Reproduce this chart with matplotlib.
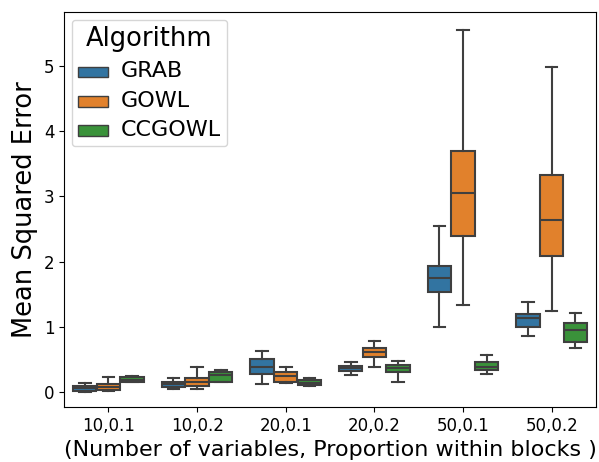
import matplotlib
matplotlib.use("Agg")
import matplotlib.pyplot as plt
from matplotlib.patches import Patch
import numpy as np

groups = ["10,0.1", "10,0.2", "20,0.1", "20,0.2", "50,0.1", "50,0.2"]
algos = ["GRAB", "GOWL", "CCGOWL"]
colors = ["#3274a1", "#e1812c", "#3a923a"]

# per algorithm, per group: whislo, q1, median, q3, whishi
grab_lo  = [0.005, 0.05, 0.12, 0.26, 0.99, 0.86]
grab_q1  = [0.02, 0.08, 0.28, 0.32, 1.53, 1.00]
grab_med = [0.055, 0.12, 0.38, 0.37, 1.75, 1.13]
grab_q3  = [0.09, 0.16, 0.50, 0.40, 1.94, 1.20]
grab_hi  = [0.14, 0.22, 0.63, 0.46, 2.54, 1.38]

gowl_lo  = [0.02, 0.05, 0.14, 0.39, 1.33, 1.24]
gowl_q1  = [0.03, 0.09, 0.15, 0.53, 2.40, 2.09]
gowl_med = [0.07, 0.16, 0.25, 0.61, 3.06, 2.64]
gowl_q3  = [0.13, 0.22, 0.31, 0.68, 3.70, 3.33]
gowl_hi  = [0.23, 0.38, 0.39, 0.79, 5.55, 4.98]

cc_lo  = [0.15, 0.15, 0.09, 0.16, 0.28, 0.68]
cc_q1  = [0.16, 0.16, 0.11, 0.30, 0.34, 0.77]
cc_med = [0.19, 0.26, 0.14, 0.37, 0.39, 0.95]
cc_q3  = [0.225, 0.30, 0.18, 0.42, 0.455, 1.06]
cc_hi  = [0.24, 0.34, 0.22, 0.475, 0.57, 1.21]

series = [
    (grab_lo, grab_q1, grab_med, grab_q3, grab_hi),
    (gowl_lo, gowl_q1, gowl_med, gowl_q3, gowl_hi),
    (cc_lo, cc_q1, cc_med, cc_q3, cc_hi),
]

fig = plt.figure(figsize=(5.99, 4.62), dpi=100)
ax = fig.add_axes([0.107, 0.119, 0.888, 0.855])

gray = "#3f3f3f"
step = 0.8 / 3
w = step * 0.98
x = np.arange(len(groups))
for k, (lo, q1, med, q3, hi) in enumerate(series):
    stats = [dict(whislo=lo[i], q1=q1[i], med=med[i], q3=q3[i], whishi=hi[i])
             for i in range(len(groups))]
    pos = x + (k - 1) * step
    ax.bxp(stats, positions=pos, widths=w, showfliers=False, patch_artist=True,
           boxprops=dict(facecolor=colors[k], edgecolor=gray, linewidth=1.5),
           medianprops=dict(color=gray, linewidth=1.5),
           whiskerprops=dict(color=gray, linewidth=1.5),
           capprops=dict(color=gray, linewidth=1.5),
           manage_ticks=False)

ax.set_xlim(-0.5, len(groups) - 0.5)
ax.set_xticks(x)
ax.set_xticklabels(groups)
ax.tick_params(labelsize=12)
ax.set_ylim(-0.23, 5.83)
ax.set_ylabel("Mean Squared Error", fontsize=18.5)
ax.set_xlabel("(Number of variables, Proportion within blocks )", fontsize=16)

handles = [Patch(facecolor=c, edgecolor=gray, label=a) for a, c in zip(algos, colors)]
leg = ax.legend(handles=handles, title="Algorithm", loc="upper left", fontsize=11,
                labelspacing=0.62)
leg.get_title().set_fontsize(18.5)
for t in leg.get_texts():
    t.set_fontsize(16)

fig.savefig("out.png", dpi=100)
